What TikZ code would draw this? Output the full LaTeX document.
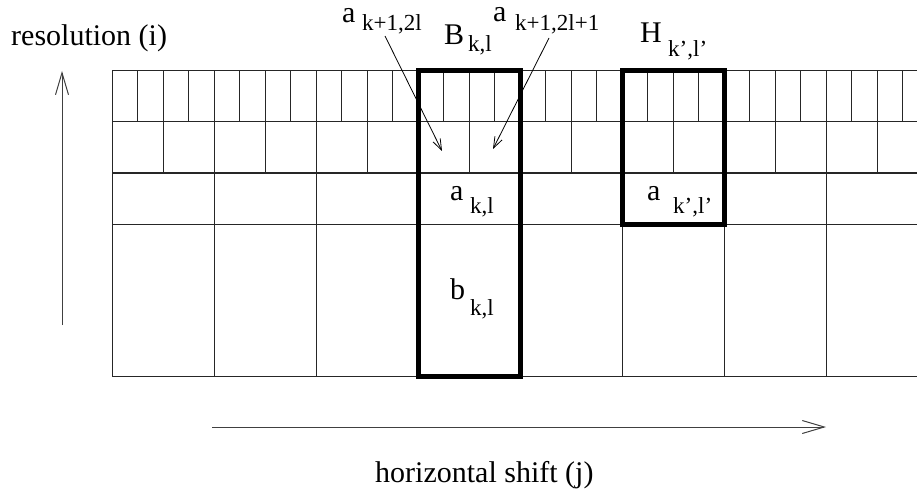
\documentclass[tikz,border=0pt]{standalone}
\usepackage{fontspec}
\setmainfont{Liberation Serif}
\usetikzlibrary{arrows.meta}
\tikzset{
  cell/.style   = {draw=black!85, line width=1pt},
  blkbox/.style = {draw=black, line width=5pt, line join=miter},
  axis/.style   = {-{Straight Barb[length=22pt, width=13pt]}, line width=1pt, draw=black!75},
  ptr/.style    = {-{Straight Barb[length=11pt, width=8pt]}, line width=0.8pt, draw=black},
  big/.style    = {font=\fontsize{30}{36}\selectfont, inner sep=0pt, anchor=base west},
  sub/.style    = {font=\fontsize{23}{28}\selectfont, inner sep=0pt, anchor=base west},
}

\begin{document}
\begin{tikzpicture}[x=1pt, y=-1pt]
\useasboundingbox (0,0) rectangle (917,489);

% the tiling, cut at the right border
\begin{scope}
\clip (0,0) rectangle (917,489);
\foreach \y in {71,122,173,224,376}
  \draw[cell] (112,\y) -- (930,\y);
\foreach \i in {0,...,32}
  \draw[cell] ({112+25.5*\i},71) -- ++(0,51);
\foreach \i in {0,...,16}
  \draw[cell] ({112+51*\i},122) -- ++(0,51);
\foreach \i in {0,...,8}
  \draw[cell] ({112+102*\i},173) -- ++(0,203);
\end{scope}

% thick blocks
\draw[blkbox] (418,71) rectangle (520,376);
\draw[blkbox] (622,71) rectangle (724,224);

% labels
\node[big] (res)  at (11,46)   {resolution (i)};
\node[big] (hsh)  at (375,482) {horizontal shift (j)};

\node[big] (aL)   at (342,23) {a};
\node[sub] (aLs)  at (362,31) {k+1,2l};
\node[big] (B)    at (444,45) {B};
\node[sub] (Bs)   at (468,52) {k,l};
\node[big] (aR)   at (493,22) {a};
\node[sub] (aRs)  at (515,31) {k+1,2l+1};
\node[big] (H)    at (640,43) {H};
\node[sub] (Hs)   at (668,57) {k',l'};

\node[big] (akl)  at (450,200) {a};
\node[sub] (akls) at (470,213) {k,l};
\node[big] (bkl)  at (450,299) {b};
\node[sub] (bkls) at (470,315) {k,l};
\node[big] (akp)  at (647,200) {a};
\node[sub] (akps) at (673,213) {k',l'};

% axes
\coordinate (vbot) at (62,325);
\coordinate (vtop) at (62,71);
\coordinate (hlft) at (212,427);
\coordinate (hrgt) at (826,427);
\draw[axis] (vbot) -- (vtop);
\draw[axis] (hlft) -- (hrgt);

% pointers to the children
\coordinate (pL0) at (385,36);
\coordinate (pL1) at (442,151);
\coordinate (pR0) at (549,38);
\coordinate (pR1) at (493,149);
\draw[ptr] (pL0) -- (pL1);
\draw[ptr] (pR0) -- (pR1);
\end{tikzpicture}
\end{document}
